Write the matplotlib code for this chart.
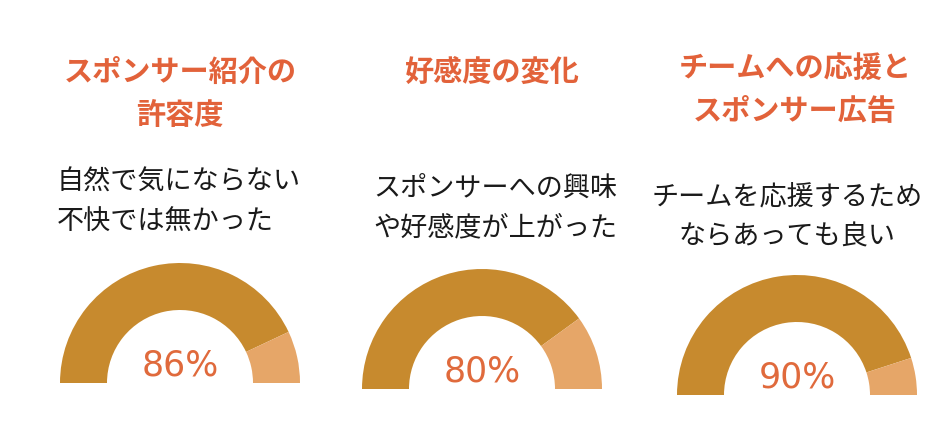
import matplotlib.pyplot as plt
from matplotlib.patches import Wedge

plt.rcParams['font.family'] = ['Noto Sans CJK JP', 'DejaVu Sans']

titles = ["スポンサー紹介の\n許容度", "好感度の変化", "チームへの応援と\nスポンサー広告"]
subtitles = ["自然で気にならない\n不快では無かった",
             "スポンサーへの興味\nや好感度が上がった",
             "チームを応援するため\nならあっても良い"]
values = [86, 80, 90]

# layout in pixel coordinates (y measured from top)
centers_x = [180, 482, 797]
base_y = [383, 389, 395]
title_x = [180, 492, 795]
title_y = [72, 72, 68]
sub_x = [57, 373, 787]
sub_ha = ['left', 'left', 'center']
sub_y = [182, 188, 197]
R_OUT, R_IN = 120, 73

dark = '#C78A2E'
light = '#E6A668'
orange = '#E2623A'
H = 421

fig = plt.figure(figsize=(9.5, 4.21), dpi=100)
ax = fig.add_axes([0, 0, 1, 1])
ax.set_xlim(0, 950)
ax.set_ylim(0, H)
ax.axis('off')

for i in range(3):
    cx = centers_x[i]
    cy = H - base_y[i]
    split = 180 * (1 - values[i] / 100)
    ax.add_patch(Wedge((cx, cy), R_OUT, split, 180, width=R_OUT - R_IN,
                       facecolor=dark, edgecolor='none'))
    ax.add_patch(Wedge((cx, cy), R_OUT, 0, split, width=R_OUT - R_IN,
                       facecolor=light, edgecolor='none'))
    ax.text(cx, cy + 18, f"{values[i]}%", ha='center', va='center',
            fontsize=25, color='#E06A3C', family='DejaVu Sans')

    for j, t in enumerate(titles[i].split("\n")):
        ax.text(title_x[i], H - (title_y[i] + j * 43), t, ha='center', va='center',
                fontsize=21, fontweight='bold', color=orange)
    for j, s in enumerate(subtitles[i].split("\n")):
        ax.text(sub_x[i], H - (sub_y[i] + j * 40), s,
                ha=sub_ha[i], va='center', fontsize=19.5, color='#1a1a1a')

fig.savefig('out.png', dpi=100, facecolor='white')
